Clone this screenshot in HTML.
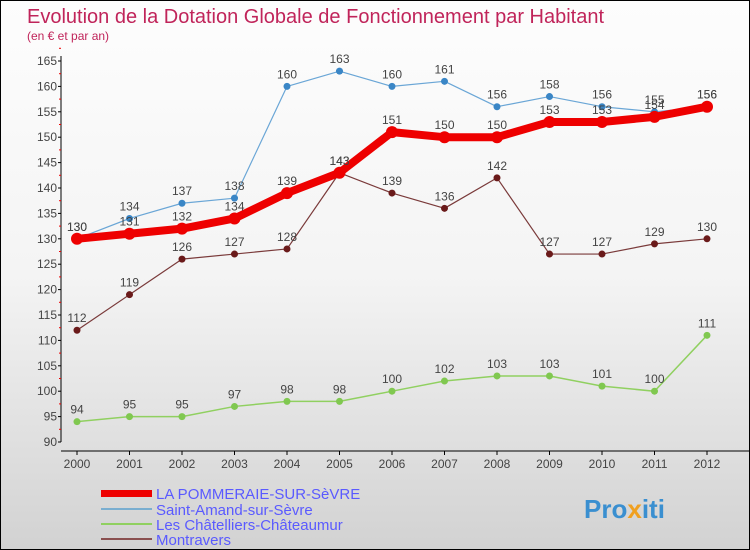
<!DOCTYPE html>
<html><head><meta charset="utf-8"><style>
body{margin:0}
#c{width:750px;height:550px;position:relative;background:linear-gradient(#fdfdfd 0%,#f4f4f4 50%,#d2d2d2 100%);border:1px solid #000;box-sizing:border-box;font-family:"Liberation Sans",sans-serif;overflow:hidden}
</style></head><body>
<div id="c">
<svg id="s" width="750" height="550" style="position:absolute;left:0;top:0">
<text x="26" y="22" font-size="20" fill="#c0245a">Evolution de la Dotation Globale de Fonctionnement par Habitant</text>
<text x="26" y="39" font-size="12" fill="#c0245a">(en € et par an)</text>
<g id="axes"></g><g id="series"></g>
<g>
<rect x="100" y="489" width="51" height="7" fill="#e00"/>
<text x="155" y="498" font-size="15" fill="#5a5aff">LA POMMERAIE-SUR-SèVRE</text>
<rect x="100" y="507" width="51" height="2" fill="#7aaed0"/>
<text x="155" y="514" font-size="15" fill="#5a5aff">Saint-Amand-sur-Sèvre</text>
<rect x="100" y="522" width="51" height="2" fill="#90d060"/>
<text x="155" y="529" font-size="15" fill="#5a5aff">Les Châtelliers-Châteaumur</text>
<rect x="100" y="537" width="51" height="2" fill="#8a5050"/>
<text x="155" y="544" font-size="15" fill="#5a5aff">Montravers</text>
</g>
<text x="583" y="517" font-size="26" font-weight="bold" fill="#3a8fd0">Pro<tspan fill="#f0a020">x</tspan>iti</text>
</svg>
</div>
<script>
const years=[2000,2001,2002,2003,2004,2005,2006,2007,2008,2009,2010,2011,2012];
const pommeraie=[130,131,132,134,139,143,151,150,150,153,153,154,156];
const saintAmand=[130,134,137,138,160,163,160,161,156,158,156,155,156];
const chatelliers=[94,95,95,97,98,98,100,102,103,103,101,100,111];
const montravers=[112,119,126,127,128,143,139,136,142,127,127,129,130];
const yTicks=[90,95,100,105,110,115,120,125,130,135,140,145,150,155,160,165];
const NS='http://www.w3.org/2000/svg';
const X=i=>76+i*52.5;
const Y=v=>441-(v-90)*(381/75);
function mk(t,a,p){const e=document.createElementNS(NS,t);for(const k in a)e.setAttribute(k,a[k]);p.appendChild(e);return e;}
const ax=document.getElementById('axes');
let l=mk('line',{x1:60,y1:55,x2:60,y2:441,stroke:'#000'},ax);


l=mk('line',{x1:60,y1:450,x2:750,y2:450,stroke:'#000'},ax);


yTicks.forEach(v=>{
 mk('line',{x1:57,y1:Y(v),x2:60,y2:Y(v),stroke:'#000'},ax);
 mk('line',{x1:58,y1:Y(v+2.5),x2:60,y2:Y(v+2.5),stroke:'#e00'},ax);
 const t=mk('text',{x:56,y:Y(v)+4,'font-size':12,fill:'#444','text-anchor':'end'},ax);t.textContent=v;
 
 
});
years.forEach((y,i)=>{
 mk('line',{x1:X(i),y1:450,x2:X(i),y2:454,stroke:'#000'},ax);
 const t=mk('text',{x:X(i),y:467,'font-size':12,fill:'#444','text-anchor':'middle'},ax);t.textContent=y;
 
 
});
const sg=document.getElementById('series');
function draw(vals,color,w,r,name,dot){
 const g=mk('g',{},sg);
 
 
 mk('polyline',{points:vals.map((v,i)=>X(i)+','+Y(v)).join(' '),fill:'none',stroke:color,'stroke-width':w,'stroke-linejoin':'round'},g);
 vals.forEach((v,i)=>{
  const c=mk('circle',{cx:X(i),cy:Y(v),r:r,fill:dot},g);
  
  
  const t=mk('text',{x:X(i),y:Y(v)-8,'font-size':12,fill:'#444','text-anchor':'middle'},g);t.textContent=v;
 });
}
draw(chatelliers,'#90d060',1.5,3.5,'series-chatelliers','#80c850');
draw(montravers,'#7a3a3a',1.2,3.5,'series-montravers','#6a1a1a');
draw(saintAmand,'#6aa6d6',1.2,3.5,'series-saint-amand','#3a86c6');
draw(pommeraie,'#ee0000',8,6,'series-pommeraie','#ee0000');
</script>
</body></html>
